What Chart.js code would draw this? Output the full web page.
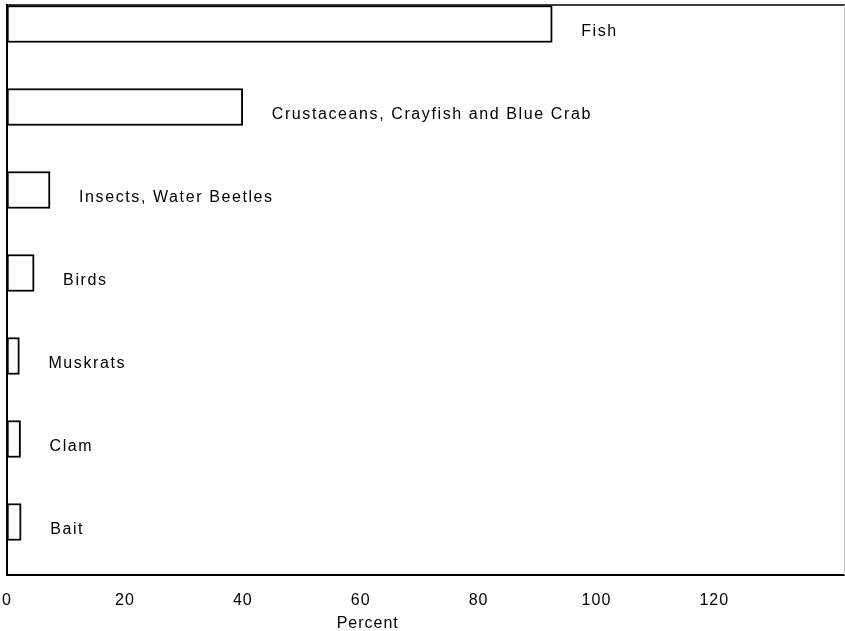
<!DOCTYPE html>
<html>
<head>
<meta charset="utf-8">
<script src="https://cdn.jsdelivr.net/npm/chart.js@4/dist/chart.umd.min.js"></script>
<style>
  html, body { margin: 0; padding: 0; background: #fff; }
  #wrap { width: 845px; height: 631px; position: relative; }
</style>
</head>
<body>
<div id="wrap"><canvas id="c" width="845" height="631"></canvas></div>
<script>
const categories = ["Fish", "Crustaceans, Crayfish and Blue Crab", "Insects, Water Beetles", "Birds", "Muskrats", "Clam", "Bait"];
const percentValues = [92.5, 40, 7.3, 4.6, 2.1, 2.3, 2.4];
const xTickValues = [0, 20, 40, 60, 80, 100, 120];
const xAxisTitle = "Percent";

const FONT = '"Liberation Sans", Arial, Helvetica, sans-serif';

const textPlugin = {
  id: 'textPlugin',
  beforeDraw(chart) {
    chart.ctx.letterSpacing = '1px';
  },
  afterDraw(chart) {
    const ctx = chart.ctx;
    const xs = chart.scales.x, ys = chart.scales.y;
    const area = chart.chartArea;
    ctx.save();
    // top frame line
    ctx.strokeStyle = '#000';
    ctx.lineWidth = 1.5;
    ctx.beginPath();
    ctx.moveTo(area.left, area.top);
    ctx.lineTo(chart.width, area.top);
    ctx.stroke();
    // faint right edge
    ctx.strokeStyle = '#c8c8c8';
    ctx.lineWidth = 1;
    ctx.beginPath();
    ctx.moveTo(area.right + 0.5, area.top);
    ctx.lineTo(area.right + 0.5, area.bottom);
    ctx.stroke();
    // category labels
    ctx.fillStyle = '#000';
    ctx.font = '16px ' + FONT;
    ctx.letterSpacing = '1.6px';
    ctx.textAlign = 'left';
    ctx.textBaseline = 'middle';
    categories.forEach((c, i) => {
      const px = xs.getPixelForValue(percentValues[i]) + 29;
      const py = ys.getPixelForValue(i) + 8;
      ctx.fillText(c, px, py);
    });
    // axis title
    ctx.letterSpacing = '1px';
    ctx.textAlign = 'center';
    ctx.fillText(xAxisTitle, xs.getPixelForValue(61.2), 624);
    ctx.restore();
  }
};

new Chart(document.getElementById('c'), {
  type: 'bar',
  data: {
    datasets: [{
      data: categories.map((c, i) => ({ x: percentValues[i], y: i })),
      backgroundColor: '#ffffff',
      borderColor: '#000',
      borderWidth: 2,
      borderSkipped: false,
      barThickness: 37
    }]
  },
  options: {
    indexAxis: 'y',
    responsive: false,
    animation: false,
    devicePixelRatio: 1,
    layout: { padding: { left: 7, top: 5, right: 1, bottom: 0 } },
    plugins: { legend: { display: false }, tooltip: { enabled: false } },
    scales: {
      x: {
        type: 'linear',
        min: 0,
        max: 142,
        afterBuildTicks(scale) { scale.ticks = xTickValues.map(v => ({ value: v })); },
        afterFit(scale) { scale.height = 56; scale.paddingLeft = 0; scale.paddingRight = 0; },
        grid: { display: false, drawTicks: false },
        border: { display: true, color: '#000', width: 2 },
        ticks: { color: '#000', font: { size: 16, family: FONT }, padding: 16, maxRotation: 0, autoSkip: false }
      },
      y: {
        type: 'linear',
        reverse: true,
        offset: false,
        min: -0.229,
        max: 6.638,
        grid: { display: false, drawTicks: false },
        border: { display: true, color: '#000', width: 2 },
        ticks: { display: false },
        afterFit(scale) { scale.width = 0; scale.paddingTop = 0; scale.paddingBottom = 0; }
      }
    }
  },
  plugins: [textPlugin]
});
</script>
</body>
</html>
